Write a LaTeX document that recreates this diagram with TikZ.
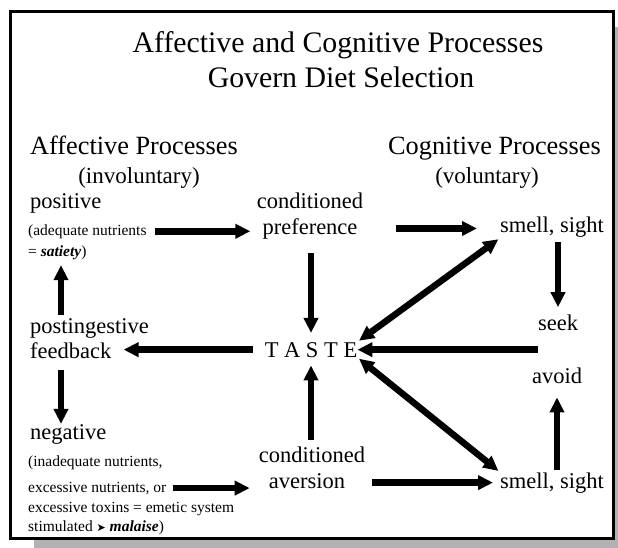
\documentclass[tikz,border=0pt]{standalone}
\usepackage{fontspec}
\setmainfont{Liberation Serif}
\newfontfamily\symfont{DejaVu Sans}
\usetikzlibrary{arrows.meta}
\begin{document}
\begin{tikzpicture}[x=1pt,y=-1pt,
  lbl/.style={inner sep=0pt, font=\fontsize{22.5}{26}\selectfont},
  head/.style={inner sep=0pt, font=\fontsize{26.3}{30}\selectfont},
  ttl/.style={inner sep=0pt, font=\fontsize{29.8}{34}\selectfont},
  sml/.style={inner sep=0pt, font=\fontsize{15.5}{18}\selectfont},
  paren/.style={inner sep=0pt, font=\fontsize{23}{26}\selectfont},
  arr/.style={line width=6.5pt, -{Triangle[length=15pt,width=14pt]}},
  darr/.style={line width=6.5pt, {Triangle[length=15pt,width=14pt]}-{Triangle[length=15pt,width=14pt]}},
]
\useasboundingbox (0,0) rectangle (618,548);
% frame with shadow
\fill[black!30] (34,27) rectangle (618,548);
\draw[line width=3pt, fill=white] (10,11.5) rectangle (613.5,538.5);

% titles
\node[ttl, anchor=base] (t1) at (338,53) {Affective and Cognitive Processes};
\node[ttl, anchor=base] (t2) at (341,88) {Govern Diet Selection};
\node[head, anchor=base west] (aff) at (30,155) {Affective Processes};
\node[paren, anchor=base] (invol) at (139,183) {(involuntary)};
\node[head, anchor=base west] (cog) at (388,155) {Cognitive Processes};
\node[paren, anchor=base] (volun) at (487,183) {(voluntary)};

% left column
\node[lbl, anchor=base west] (pos) at (30,208) {positive};
\node[sml, anchor=base west] (adeq) at (28,235) {(adequate nutrients};
\node[sml, anchor=base west] (sat) at (28,256) {= \textbf{\textit{satiety}})};
\node[lbl, anchor=base west] (post) at (30,333) {postingestive};
\node[lbl, anchor=base west] (fb) at (30,358) {feedback};
\node[lbl, anchor=base west] (neg) at (30,439) {negative};
\node[sml, anchor=base west] (inad) at (28,466) {(inadequate nutrients,};
\node[sml, anchor=base west] (excn) at (28,492) {excessive nutrients, or};
\node[sml, anchor=base west] (tox) at (28,512) {excessive toxins = emetic system};
\node[sml, anchor=base west] (stim) at (28,531) {stimulated {\symfont\fontsize{11}{12}\selectfont ➤} \textbf{\textit{malaise}})};

% middle column
\node[lbl, anchor=base] (cond1) at (310,208) {conditioned};
\node[lbl, anchor=base] (pref) at (310,234) {preference};
\node[lbl, anchor=base] (taste) at (311,357) {T A S T E};
\node[lbl, anchor=base] (cond2) at (312,462) {conditioned};
\node[lbl, anchor=base] (avers) at (307,488) {aversion};

% right column
\node[lbl, anchor=base west] (sm1) at (500,233) {smell, sight};
\node[lbl, anchor=base] (seek) at (558,330) {seek};
\node[lbl, anchor=base] (avoid) at (557,383) {avoid};
\node[lbl, anchor=base west] (sm2) at (500,488) {smell, sight};

\coordinate (lx) at ([xshift=31pt]post.north west);

% connectors
\draw[arr, shorten <=8pt, shorten >=12pt] (adeq.east) -- (adeq.east -| pref.west);
\draw[arr, shorten <=38pt, shorten >=23pt] (pref.east) -- (pref.east -| sm1.west);
\draw[arr, shorten <=14pt, shorten >=9pt] (taste.north |- pref.south) -- (taste.north);
\draw[arr, shorten <=4pt, shorten >=7pt] (seek.north |- sm1.south) -- (seek.north);
\draw[arr] (seek.west |- taste.east) -- (taste.east);
\draw[arr, shorten <=12pt, shorten >=12pt] (taste.west) -- (taste.west -| fb.east);
\draw[arr, shorten <=2.6pt, shorten >=5.6pt] (lx) -- (lx |- sat.south);
\draw[arr, shorten <=12pt] (lx |- fb.south) -- (lx |- neg.north);
\draw[arr, shorten <=6pt, shorten >=19pt] (excn.east) -- (excn.east -| avers.west);
\draw[arr, shorten <=6.6pt, shorten >=8pt] (taste.south |- cond2.north) -- (taste.south);
\draw[arr, shorten <=27pt, shorten >=7pt] (sm2.west -| avers.east) -- (sm2.west);
\draw[arr, shorten <=2.6pt, shorten >=14pt] (avoid.south |- sm2.north) -- (avoid.south);
\draw[darr, shorten <=2pt, shorten >=2pt] (taste.north east) -- (sm1.south west);
\draw[darr, shorten <=2pt, shorten >=2pt] (taste.south east) -- (sm2.north west);
\end{tikzpicture}
\end{document}
